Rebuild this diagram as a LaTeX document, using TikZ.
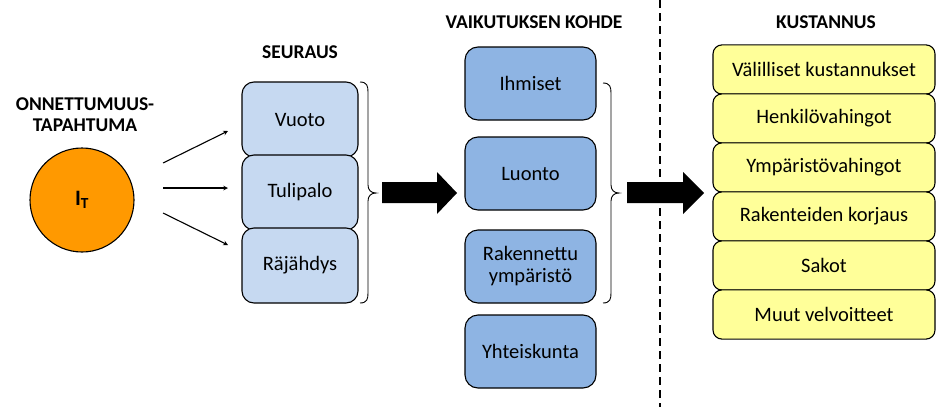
\documentclass[tikz,border=0pt]{standalone}
\usepackage{fontspec}
\setmainfont{Carlito}
\usetikzlibrary{calc}

\definecolor{eventorange}{HTML}{FF9900}
\definecolor{conslight}{HTML}{C6D9F1}
\definecolor{targetblue}{HTML}{8EB4E3}
\definecolor{costyellow}{HTML}{FFFF99}

\begin{document}
\begin{tikzpicture}[x=1pt,y=-1pt,
  title/.style={font=\bfseries\fontsize{19.5}{22}\selectfont, align=center},
  boxtext/.style={font=\fontsize{20.5}{23}\selectfont, align=center, inner sep=0pt},
  seurausbox/.style={boxtext, draw=black, line width=1.1pt, fill=conslight,
    rounded corners=12pt, minimum width=116pt, minimum height=75pt},
  kohdebox/.style={boxtext, draw=black, line width=1.1pt, fill=targetblue,
    rounded corners=13pt, minimum width=131pt, minimum height=73pt},
  costbox/.style={boxtext, draw=black, line width=1.1pt, fill=costyellow,
    rounded corners=9pt, minimum width=222pt, minimum height=49.2pt},
  thinarrow/.style={-stealth, line width=1.1pt},
  bracestyle/.style={line width=0.9pt},
  fatarrow/.style={fill=black}
]
\useasboundingbox (0,0) rectangle (936,407);

% ---- event ----
\node[title] (evtitle) at (85,115) {ONNETTUMUUS-\\[-1pt]TAPAHTUMA};
\node[circle, draw=black, line width=1.1pt, fill=eventorange, minimum size=104pt,
  inner sep=0pt, font=\bfseries\fontsize{22}{24}\selectfont] (it) at (82,200) {I$_{\mathbf{T}}$};

% ---- consequences ----
\node[title] (seurtitle) at (300,52) {SEURAUS};
\node[seurausbox] (vuoto) at (300,119.5) {Vuoto};
\node[seurausbox] (tuli) at (300,192.5) {Tulipalo};
\node[seurausbox] (raj) at (300,265.5) {Räjähdys};

\coordinate (s1) at (163,163);
\coordinate (e1) at (228,131);
\coordinate (s2) at (163,188);
\coordinate (e2) at (228,188);
\coordinate (s3) at (163,213);
\coordinate (e3) at (228,245);
\draw[thinarrow] (s1) -- (e1);
\draw[thinarrow] (s2) -- (e2);
\draw[thinarrow] (s3) -- (e3);

% brace grouping the consequences
\draw[bracestyle] (360,82) .. controls (367,82) and (368,86) .. (368,92)
  -- (368,185) .. controls (368,190) and (371,193) .. (376,193)
  .. controls (371,193) and (368,196) .. (368,201)
  -- (368,293) .. controls (368,299) and (367,303) .. (360,303);

% fat arrow to targets
\fill[fatarrow] (382,182) -- (437,182) -- (437,172) -- (457,193)
  -- (437,214) -- (437,203) -- (382,203) -- cycle;

% ---- targets ----
\node[title] (kohtitle) at (534,22) {VAIKUTUKSEN KOHDE};
\node[kohdebox] (ihm) at (530.5,83.5) {Ihmiset};
\node[kohdebox] (luo) at (530.5,173.5) {Luonto};
\node[kohdebox] (rak) at (530.5,266.5) {Rakennettu\\[-1pt]ympäristö};
\node[kohdebox] (yht) at (530.5,351.5) {Yhteiskunta};

\draw[bracestyle] (603,83) .. controls (610,83) and (611,87) .. (611,93)
  -- (611,185) .. controls (611,190) and (614,193) .. (619,193)
  .. controls (614,193) and (611,196) .. (611,201)
  -- (611,293) .. controls (611,299) and (610,303) .. (603,303);

% divider
\coordinate (dtop) at (660,0);
\coordinate (dbot) at (660,407);
\draw[dashed, line width=1.3pt, dash pattern=on 8pt off 5pt] (dtop) -- (dbot);

% fat arrow to costs
\fill[fatarrow] (627,182) -- (683,182) -- (683,172) -- (704,193)
  -- (683,214) -- (683,203) -- (627,203) -- cycle;

% ---- costs ----
\node[title] (kusttitle) at (826,22) {KUSTANNUS};
\node[costbox] (c1) at (824,69.5) {Välilliset kustannukset};
\node[costbox] (c2) at (824,118.5) {Henkilövahingot};
\node[costbox] (c3) at (824,167.5) {Ympäristövahingot};
\node[costbox] (c4) at (824,216.5) {Rakenteiden korjaus};
\node[costbox] (c5) at (824,265.5) {Sakot};
\node[costbox] (c6) at (824,314.5) {Muut velvoitteet};
\end{tikzpicture}
\end{document}
